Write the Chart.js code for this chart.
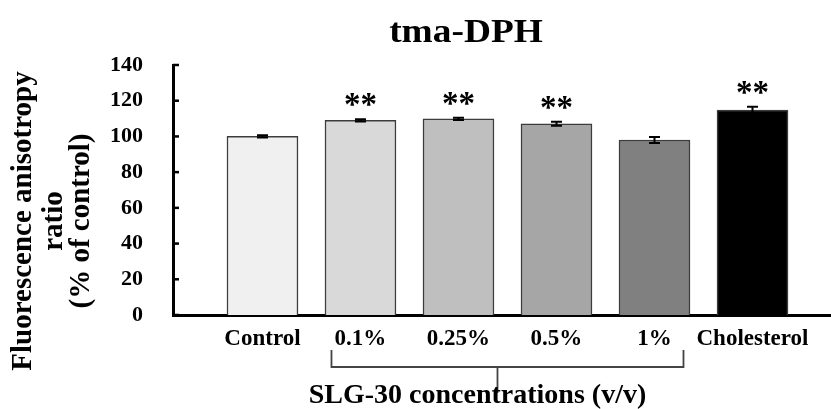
<!DOCTYPE html>
<html>
<head>
<meta charset="utf-8">
<script src="https://cdn.jsdelivr.net/npm/chart.js@4.4.1/dist/chart.umd.min.js"></script>
<style>
  html, body { margin: 0; padding: 0; background: #fff; }
  #wrap { width: 831px; height: 409px; position: relative; }
</style>
</head>
<body>
<div id="wrap"><canvas id="c"></canvas></div>
<script>
const categories = ['Control', '0.1%', '0.25%', '0.5%', '1%', 'Cholesterol'];
const values = [100, 109.0, 109.8, 107.1, 98.0, 114.8];
const errors = [0.6, 0.6, 0.6, 1.1, 1.7, 1.8];
const significance = ['', '**', '**', '**', '', '**'];
const barColors = ['#f0f0f0', '#d9d9d9', '#bfbfbf', '#a6a6a6', '#808080', '#000000'];
const yTicks = [0, 20, 40, 60, 80, 100, 120, 140];
const groupFirst = 1, groupLast = 4;
const titleText = 'tma-DPH';
const yTitleLines = ['Fluorescence anisotropy', 'ratio', '(% of control)'];
const xTitleText = 'SLG-30 concentrations (v/v)';

const SERIF = '"Liberation Serif", "Times New Roman", serif';

const decor = {
  id: 'decor',
  afterDatasetsDraw(chart) {
    const ctx = chart.ctx;
    const xs = chart.scales.x, ys = chart.scales.y;
    ctx.save();
    // error bars
    ctx.strokeStyle = '#000';
    ctx.lineWidth = 2;
    values.forEach((v, i) => {
      const x = xs.getPixelForValue(i);
      const t = ys.getPixelForValue(v + errors[i]);
      const b = ys.getPixelForValue(v - errors[i]);
      ctx.beginPath();
      ctx.moveTo(x, t); ctx.lineTo(x, b);
      ctx.moveTo(x - 5.5, t); ctx.lineTo(x + 5.5, t);
      ctx.moveTo(x - 5.5, b); ctx.lineTo(x + 5.5, b);
      ctx.stroke();
    });
    // significance stars
    ctx.fillStyle = '#000';
    ctx.font = 'bold 33px ' + SERIF;
    ctx.textAlign = 'center';
    ctx.textBaseline = 'alphabetic';
    significance.forEach((s, i) => {
      if (!s) return;
      const x = xs.getPixelForValue(i);
      const t = ys.getPixelForValue(values[i] + errors[i]);
      ctx.fillText(s, x, t - 4);
    });
    ctx.restore();
  },
  afterDraw(chart) {
    const ctx = chart.ctx;
    const xs = chart.scales.x, ys = chart.scales.y;
    const area = chart.chartArea;
    ctx.save();
    // inward y tick marks
    ctx.strokeStyle = '#000';
    ctx.lineWidth = 2.5;
    yTicks.forEach(v => {
      const y = ys.getPixelForValue(v);
      ctx.beginPath();
      ctx.moveTo(area.left, y); ctx.lineTo(area.left + 6, y);
      ctx.stroke();
    });
    // bracket under the SLG-30 group
    const x1 = xs.getPixelForValue(groupFirst) - 29;
    const x2 = xs.getPixelForValue(groupLast) + 29;
    const xm = xs.getPixelForValue((groupFirst + groupLast) / 2) - 10;
    const yb = area.bottom + 52;
    ctx.strokeStyle = '#444';
    ctx.lineWidth = 1.8;
    ctx.beginPath();
    ctx.moveTo(x1, area.bottom + 35); ctx.lineTo(x1, yb); ctx.lineTo(x2, yb); ctx.lineTo(x2, area.bottom + 35);
    ctx.moveTo(xm, yb); ctx.lineTo(xm, yb + 26);
    ctx.stroke();
    // x title
    ctx.fillStyle = '#000';
    ctx.textAlign = 'center';
    ctx.textBaseline = 'alphabetic';
    ctx.font = 'bold 28px ' + SERIF;
    ctx.fillText(xTitleText, xm - 20, 403);
    // main title
    ctx.save();
    ctx.translate(466, 42);
    ctx.scale(1.1, 1);
    ctx.font = 'bold 34px ' + SERIF;
    ctx.fillText(titleText, 0, 0);
    ctx.restore();
    // y title (rotated)
    ctx.save();
    ctx.translate(0, 221);
    ctx.rotate(-Math.PI / 2);
    ctx.font = 'bold 29px ' + SERIF;
    ctx.textBaseline = 'middle';
    const xsLines = [24, 55, 82];
    yTitleLines.forEach((l, i) => ctx.fillText(l, 0, xsLines[i]));
    ctx.restore();
    ctx.restore();
  }
};

new Chart(document.getElementById('c'), {
  type: 'bar',
  data: {
    datasets: [{
      data: values.map((v, i) => ({ x: i, y: v })),
      backgroundColor: barColors,
      borderColor: '#3c3c3c',
      borderWidth: 1.5,
      borderSkipped: 'start',
      barThickness: 71
    }]
  },
  options: {
    responsive: true,
    maintainAspectRatio: false,
    animation: false,
    layout: { padding: { top: 65, right: 0, left: 0, bottom: 0 } },
    plugins: { legend: { display: false }, tooltip: { enabled: false }, title: { display: false } },
    scales: {
      x: {
        type: 'linear',
        offset: false,
        min: -0.913,
        max: 5.801,
        z: 1,
        grid: { display: false, drawTicks: false, offset: false },
        border: { display: true, color: '#000', width: 3 },
        afterBuildTicks: (s) => { s.ticks = categories.map((_, i) => ({ value: i })); },
        afterFit: (s) => { s.height = 94; },
        ticks: {
          autoSkip: false,
          maxRotation: 0,
          padding: 10,
          color: '#000',
          font: { family: SERIF, weight: 'bold', size: 23 },
          callback: (v) => categories[v] ?? ''
        }
      },
      y: {
        min: 0,
        max: 140,
        z: 1,
        grid: { display: false, drawTicks: false },
        border: { display: true, color: '#000', width: 3 },
        afterBuildTicks: (s) => { s.ticks = yTicks.map(v => ({ value: v })); },
        afterFit: (s) => { s.width = 173; },
        ticks: {
          padding: 30,
          color: '#000',
          font: { family: SERIF, weight: 'bold', size: 22 }
        }
      }
    }
  },
  plugins: [decor]
});
</script>
</body>
</html>
